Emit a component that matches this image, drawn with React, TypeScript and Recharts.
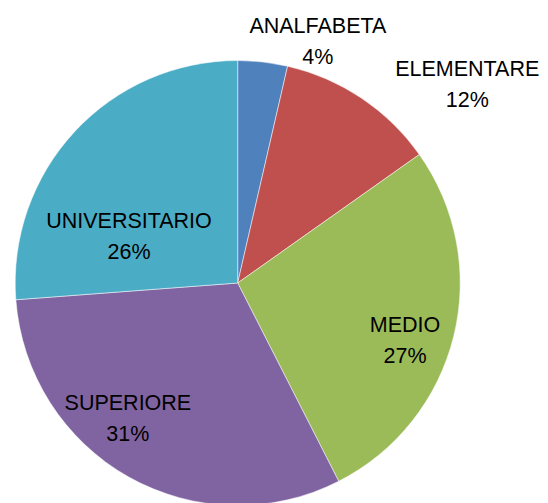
import { PieChart, Pie, Cell } from "recharts";

const categories = ["ANALFABETA", "ELEMENTARE", "MEDIO", "SUPERIORE", "UNIVERSITARIO"];
const shares = [3.6, 11.6, 27.3, 31.3, 26.2];
const colors = ["#4F81BD", "#C0504D", "#9BBB59", "#8064A2", "#4BACC6"];

// where each label sits: radius factor and clockwise shift from the slice middle (deg)
const labelRadius = [1.114, 1.344, 0.806, 0.81, 0.52];
const labelShift = [12.4, 16.3, 7.2, 8.2, -22.8];

const data = categories.map((name, i) => ({ name, value: shares[i] }));

const RAD = Math.PI / 180;

function renderLabel(props: any) {
  const { cx, cy, midAngle, outerRadius, percent, index, name } = props;
  const a = midAngle - labelShift[index];
  const r = outerRadius * labelRadius[index];
  const x = cx + r * Math.cos(-a * RAD);
  const y = cy + r * Math.sin(-a * RAD);
  return (
    <text
      x={x}
      y={y}
      textAnchor="middle"
      fill="#000"
      fontFamily="'Liberation Sans', Arial, sans-serif"
      fontSize={21.5}
    >
      <tspan x={x} y={y - 15.5}>{name}</tspan>
      <tspan x={x} y={y + 15.5}>{`${Math.round(percent * 100)}%`}</tspan>
    </text>
  );
}

export default function App() {
  return (
    <PieChart width={540} height={495} margin={{ top: 0, right: 0, bottom: 0, left: 0 }}>
      <Pie
        data={data}
        dataKey="value"
        nameKey="name"
        cx={229.7}
        cy={275}
        outerRadius={222.5}
        startAngle={90}
        endAngle={-270}
        label={renderLabel}
        labelLine={false}
        stroke="#fff"
        strokeWidth={0.5}
        isAnimationActive={false}
      >
        {data.map((d, i) => (
          <Cell key={d.name} fill={colors[i]} />
        ))}
      </Pie>
    </PieChart>
  );
}
